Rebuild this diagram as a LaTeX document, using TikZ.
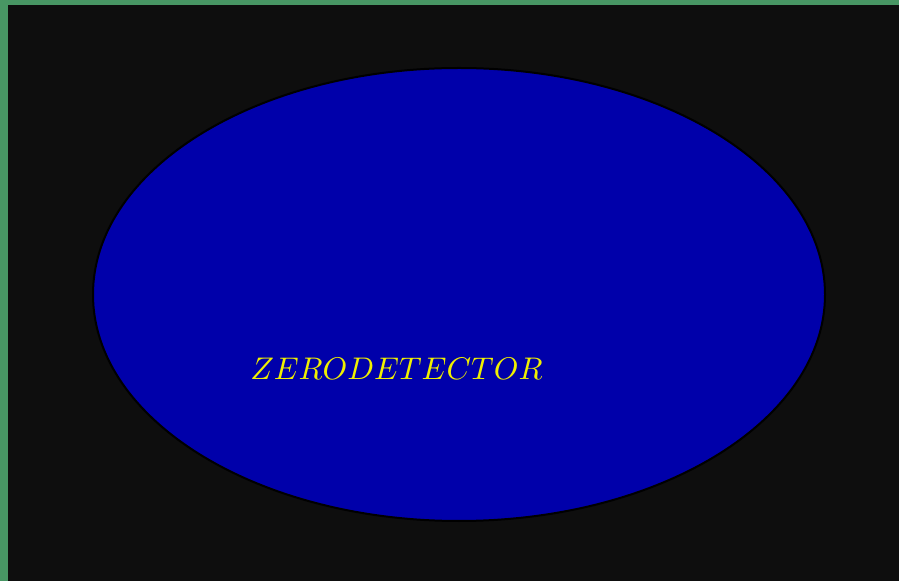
\documentclass[tikz,border=0pt]{standalone}
\definecolor{bordergreen}{RGB}{72,150,100}
\definecolor{bgdark}{RGB}{14,14,14}
\definecolor{ellblue}{RGB}{0,0,170}
\definecolor{txtyellow}{RGB}{240,240,0}
\tikzset{
  detector/.style={ellipse, draw=black, line width=2pt, fill=ellblue, minimum width=732pt, minimum height=453pt, inner sep=0pt},
  label/.style={text=txtyellow, scale=3.13, inner sep=0pt}
}
\usetikzlibrary{shapes.geometric}
\begin{document}
\begin{tikzpicture}[x=1pt,y=1pt]
\useasboundingbox (0,0) rectangle (899,581);
\fill[bordergreen] (0,0) rectangle (899,581);
\fill[bgdark] (7.5,0) rectangle (899,575.5);
\node[detector] (ell) at (459,286.5) {};
\node[label] (txt) at (396.5,212) {$ZERODETECTOR$};
\end{tikzpicture}
\end{document}
